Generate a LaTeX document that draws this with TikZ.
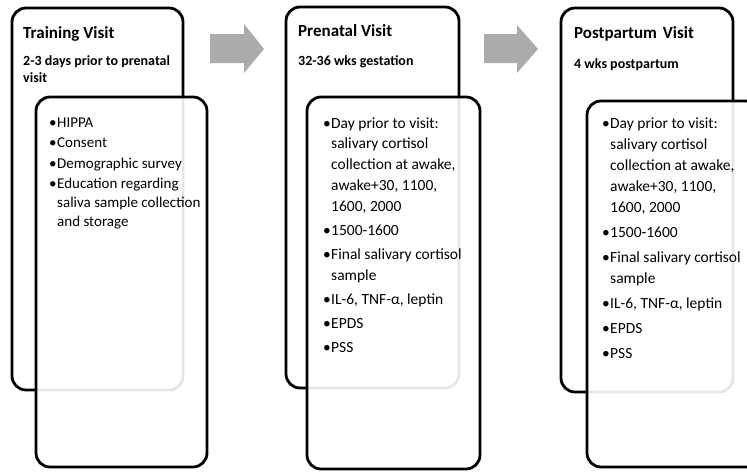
\documentclass[tikz,border=0pt]{standalone}
\usepackage{fontspec}
\setmainfont{Carlito}
\definecolor{arrowgray}{RGB}{171,171,171}
\newcommand{\bul}{\makebox[8pt][l]{\textbullet}}
\newcommand{\cont}{\hspace*{8pt}}
\tikzset{
  outerbox/.style={draw=black, line width=2.8pt, rounded corners=14pt, fill=white, inner sep=0pt, rectangle},
  innerbox/.style={draw=black, line width=2.8pt, rounded corners=14pt, fill=white, fill opacity=0.9, inner sep=0pt, rectangle},
  ttl/.style={anchor=base west, inner sep=0pt, font=\fontsize{17}{20}\selectfont\bfseries},
  subttl/.style={anchor=base west, inner sep=0pt, font=\fontsize{14}{17}\selectfont\bfseries},
  lst/.style={anchor=base west, inner sep=0pt},
  blockarrow/.style={fill=arrowgray, draw=none}
}
\begin{document}
\begin{tikzpicture}[x=1pt, y=-1pt]
\useasboundingbox (0,0) rectangle (747,472);
\clip (0,0) rectangle (747,472);
\fill[white] (0,0) rectangle (747,472);

% block arrows
\fill[blockarrow] (210,34) -- (244,34) -- (244,24) -- (264,49) -- (244,73) -- (244,63) -- (210,63) -- cycle;
\fill[blockarrow] (484,34) -- (517,34) -- (517,25) -- (538,49) -- (517,73) -- (517,63) -- (484,63) -- cycle;

% box 1
\node[outerbox, minimum width=171pt, minimum height=382pt] (ob1) at (97.5,199) {};
\node[ttl] (t1) at (23,38) {Training Visit};
\node[subttl] (s1) at (23,65) {\parbox[t]{165pt}{\raggedright 2-3 days prior to prenatal\\ visit}};
\node[innerbox, minimum width=171pt, minimum height=370pt] (ib1) at (121.5,282) {};
\node[lst] (l1) at (49,127) {\parbox[t]{160pt}{\fontsize{15}{18.8}\selectfont\raggedright
\bul HIPPA\\[1.8pt]
\bul Consent\\[1.8pt]
\bul Demographic survey\\[1.8pt]
\bul Education regarding\\
\cont saliva sample collection\\
\cont and storage}};

% box 2
\node[outerbox, minimum width=173pt, minimum height=381pt] (ob2) at (372.5,197.5) {};
\node[ttl] (t2) at (298,36.5) {Prenatal Visit};
\node[subttl] (s2) at (298,65) {32-36 wks gestation};
\node[innerbox, minimum width=173pt, minimum height=372pt] (ib2) at (393.5,283) {};
\node[lst] (l2) at (323,128) {\parbox[t]{160pt}{\fontsize{15.5}{20.8}\selectfont\raggedright
\bul Day prior to visit:\\
\cont salivary cortisol\\
\cont collection at awake,\\
\cont awake+30, 1100,\\
\cont 1600, 2000\\[3.3pt]
\bul 1500-1600\\[3.3pt]
\bul Final salivary cortisol\\
\cont sample\\[3.3pt]
\bul IL-6, TNF-α, leptin\\[3.3pt]
\bul EPDS\\[3.3pt]
\bul PSS}};

% box 3
\node[outerbox, minimum width=172pt, minimum height=384pt] (ob3) at (647,200) {};
\node[ttl] (t3) at (574,38) {Postpartum\hspace{2pt} Visit};
\node[subttl] (s3) at (574,68) {4 wks postpartum};
\node[innerbox, minimum width=173pt, minimum height=366pt] (ib3) at (673.5,284) {};
\node[lst] (l3) at (602,128) {\parbox[t]{160pt}{\fontsize{15.5}{21.2}\selectfont\raggedright
\bul Day prior to visit:\\
\cont salivary cortisol\\
\cont collection at awake,\\
\cont awake+30, 1100,\\
\cont 1600, 2000\\[3.6pt]
\bul 1500-1600\\[3.6pt]
\bul Final salivary cortisol\\
\cont sample\\[3.6pt]
\bul IL-6, TNF-α, leptin\\[3.6pt]
\bul EPDS\\[3.6pt]
\bul PSS}};
\end{tikzpicture}
\end{document}
